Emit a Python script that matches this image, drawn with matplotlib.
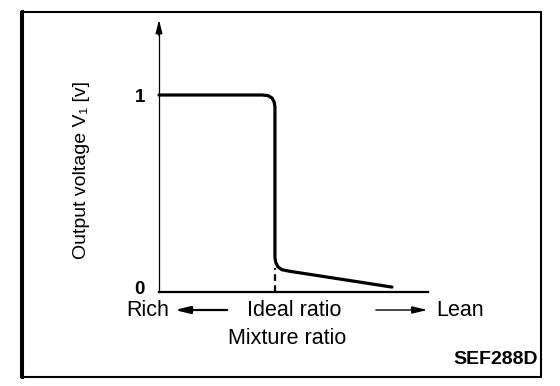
import matplotlib
matplotlib.use("Agg")
import matplotlib.pyplot as plt
from matplotlib.patches import Rectangle, FancyArrowPatch
from matplotlib.lines import Line2D
from matplotlib.transforms import ScaledTranslation

plt.rcParams['font.family'] = ['Liberation Sans', 'DejaVu Sans']

# Data (mixture ratio normalised 0..1, output voltage in V)
mix = [0.0, 0.383, 0.405, 0.420, 0.428, 0.431, 0.431, 0.434, 0.442, 0.457, 0.487, 0.866]
volt = [1.0, 1.0, 0.997, 0.985, 0.965, 0.94, 0.175, 0.150, 0.128, 0.113, 0.105, 0.025]
ideal_x = 0.431
ytick_vals = [0, 1]
ytick_labels = ["0", "1"]

W, H = 560, 386
fig = plt.figure(figsize=(W / 100, H / 100), dpi=100)

def fx(px):
    return px / W

def fy(py):
    return 1 - py / H

# axes box: x 159..428 px, y 17..292 px
ax_left, ax_right, ax_top, ax_bot = 159, 428, 17, 292
ax = fig.add_axes([fx(ax_left), fy(ax_bot), (ax_right - ax_left) / W, (ax_bot - ax_top) / H])
ymax = (ax_bot - ax_top) / (292 - 95)
ax.set_xlim(0, 1)
ax.set_ylim(0, ymax)
for s in ax.spines.values():
    s.set_visible(False)
ax.set_xticks([])
ax.set_yticks(ytick_vals)
ax.set_yticklabels(ytick_labels, fontsize=13.5, fontweight='bold')
ax.tick_params(axis='y', length=0, pad=10)
lab0 = ax.get_yticklabels()[0]
lab0.set_transform(lab0.get_transform() + ScaledTranslation(0, 3 / 72, fig.dpi_scale_trans))

# curve
ax.plot(mix, volt, color='black', lw=2.3, solid_capstyle='round', solid_joinstyle='round', clip_on=False)

# axes lines
ax.plot([0, 1], [0, 0], color='black', lw=1.6, clip_on=False)
ax.plot([0, 0], [0, ymax - 0.05], color='black', lw=0.9, clip_on=False)
ax.annotate('', xy=(0, ymax), xytext=(0, ymax - 0.11),
            arrowprops=dict(arrowstyle='-|>,head_length=0.8,head_width=0.2', color='black', lw=1.0),
            annotation_clip=False)

# ideal ratio dashed marker
ax.plot([ideal_x, ideal_x], [0, 0.12], color='black', lw=1.6, ls=(0, (3, 2)), clip_on=False)

# y label
fig.text(fx(82), fy(170), "Output voltage V\u2081 [v]", rotation=90, ha='center', va='center', fontsize=14)

# bottom texts
fig.text(fx(148), fy(310), "Rich", ha='center', va='center', fontsize=15.5)
fig.text(fx(294), fy(310), "Ideal ratio", ha='center', va='center', fontsize=15.5)
fig.text(fx(460), fy(310), "Lean", ha='center', va='center', fontsize=15.5)
fig.text(fx(287), fy(339), "Mixture ratio", ha='center', va='center', fontsize=15.5)
fig.text(fx(538), fy(360), "SEF288D", ha='right', va='center', fontsize=14, fontweight='bold')

# arrows
fig.patches.append(FancyArrowPatch(
    (fx(230), fy(310)), (fx(172), fy(310)), transform=fig.transFigure,
    arrowstyle='-|>,head_length=0.9,head_width=0.22', color='black', lw=1.6, mutation_scale=10))
fig.patches.append(FancyArrowPatch(
    (fx(373), fy(310)), (fx(430), fy(310)), transform=fig.transFigure,
    arrowstyle='-|>,head_length=0.9,head_width=0.22', color='black', lw=1.0, mutation_scale=10))

# frame
fig.patches.append(Rectangle((fx(21), fy(376.5)), (541 - 21) / W, (376.5 - 11.5) / H,
                             transform=fig.transFigure, fill=False, ec='black', lw=1.5))
fig.lines.append(Line2D([fx(21.5), fx(21.5)], [fy(11), fy(377)], transform=fig.transFigure,
                        color='black', lw=2.2))

fig.savefig("out.png", dpi=100)
